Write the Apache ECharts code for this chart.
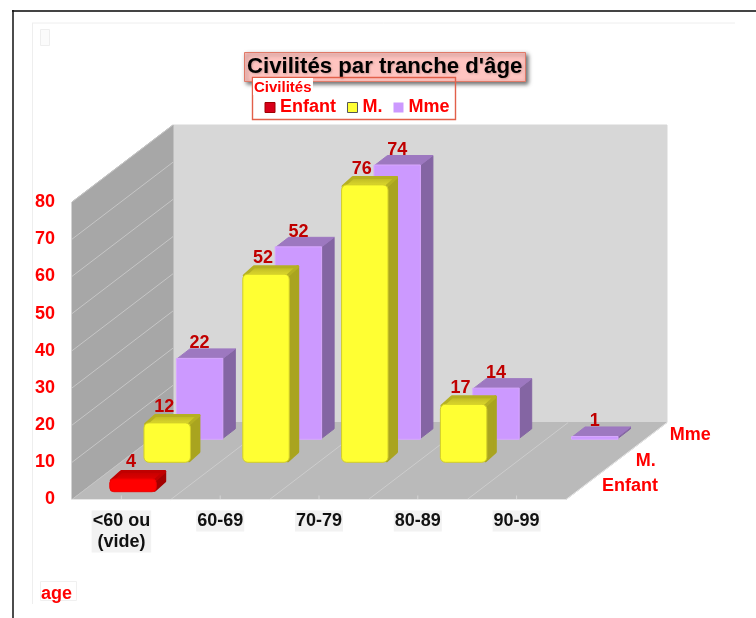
<!DOCTYPE html>
<html>
<head>
<meta charset="utf-8">
<title>Civilités par tranche d'âge</title>
<script src="https://cdn.jsdelivr.net/npm/echarts@6/dist/echarts.min.js"></script>
<style>
  html, body { margin: 0; padding: 0; background: #fff; }
  #chart { width: 756px; height: 618px; filter: blur(0.4px); }
</style>
</head>
<body>
<div id="chart"></div>
<script>
var categories = ['<60 ou\n(vide)', '60-69', '70-79', '80-89', '90-99'];
var civilites = ['Enfant', 'M.', 'Mme'];
var enfant = [4, null, null, null, null];
var monsieur = [12, 52, 76, 17, null];
var madame = [22, 52, 74, 14, 1];
var yTicks = [0, 10, 20, 30, 40, 50, 60, 70, 80];

var FONT = '"Liberation Sans", Arial, sans-serif';
// profondeur du plancher / mur gauche en pixels
var DEPTH = { dx: 101, dy: 77 };

// topDy : décalage du haut de colonne, dy : décalage du pied
var layers = [
  { values: enfant, z: 4, dx: 11.6, dy: 7.8, topDy: 5.6, sideDx: 10, sideDy: 9, r: 4,
    front: '#ff0000', side: '#a30000', topFrom: '#c00000', topTo: '#e60000', border: '#ee0000',
    nameDx: 36, nameDy: 13.8, labelDx: -2, labelDy: 17 },
  { values: monsieur, z: 3, dx: 45.8, dy: 37.2, topDy: 32, sideDx: 10, sideDy: 9, r: 5,
    front: '#ffff33', side: '#a9a41f', topFrom: '#b5b022', topTo: '#e6e22e', border: '#d2ce28',
    nameDx: 69.7, nameDy: 38.5, labelDx: -3, labelDy: 16 },
  { values: madame, z: 2, dx: 78.2, dy: 60.2, topDy: 59.3, sideDx: 13, sideDy: 10, r: 0,
    front: '#cc99ff', side: '#8465a3', topFrom: '#9d78c0', topTo: '#9d78c0', border: '#d8a8ff',
    nameDx: 103.7, nameDy: 64.5, labelDx: 0, labelDy: 15 }
];

function poly(points, fill, stroke, lineWidth) {
  return {
    type: 'polygon',
    shape: { points: points },
    style: { fill: fill, stroke: stroke || fill, lineWidth: lineWidth || 1, lineJoin: 'round' }
  };
}

function line(x1, y1, x2, y2, color) {
  return {
    type: 'line',
    shape: { x1: x1, y1: y1, x2: x2, y2: y2 },
    style: { stroke: color, lineWidth: 1 }
  };
}

function renderWalls(params, api) {
  var g = params.coordSys;
  var l = g.x, r = g.x + g.width, t = g.y, b = g.y + g.height;
  var dx = DEPTH.dx, dy = DEPTH.dy;
  var children = [
    poly([[l + dx, t - dy], [r + dx, t - dy], [r + dx, b - dy], [l + dx, b - dy]], '#d7d7d7'),
    poly([[l, t], [l + dx, t - dy], [l + dx, b - dy], [l, b]], '#a7a7a7'),
    poly([[l, b], [l + dx, b - dy], [r + dx, b - dy], [r, b]], '#bababa')
  ];
  yTicks.forEach(function (tick) {
    var y = api.coord([0, tick])[1];
    children.push(line(l, y, l + dx, y - dy, '#c6c6c6'));
  });
  var band = g.width / categories.length;
  categories.forEach(function (c, i) {
    if (i > 0) {
      children.push(line(l + band * i, b, l + band * i + dx, b - dy, '#cdcdcd'));
    }
    var cx = l + band * (i + 0.5);
    children.push(line(cx, b, cx, b - 4, '#d4d4d4'));
  });
  children.push(line(l, b, r, b, '#e6e6e6'));
  children.push(line(r, b, r + dx, b - dy, '#e6e6e6'));
  civilites.forEach(function (name, i) {
    children.push({
      type: 'text',
      x: r + layers[i].nameDx,
      y: b - layers[i].nameDy,
      style: {
        text: name, fill: '#ff0000', font: 'bold 18px ' + FONT,
        textAlign: 'left', textVerticalAlign: 'middle'
      }
    });
  });
  return { type: 'group', children: children };
}

function barRenderer(layer) {
  return function (params, api) {
    var v = api.value(1);
    if (isNaN(v)) return;
    var cat = api.value(0);
    var base = api.coord([cat, 0]);
    var head = api.coord([cat, v]);
    var w = api.size([1, 0])[0] * 0.47;
    var x0 = base[0] + layer.dx - w / 2;
    var x1 = x0 + w;
    var yb = base[1] - layer.dy;
    var yt = head[1] - layer.topDy;
    var sx = layer.sideDx, sy = layer.sideDy;
    var inset = layer.r ? 1.5 : 0.5;
    var lw = layer.r ? 3 : 1;
    var topFill = new echarts.graphic.LinearGradient(0, 0, 0, 1, [
      { offset: 0, color: layer.topFrom },
      { offset: 1, color: layer.topTo }
    ]);
    return {
      type: 'group',
      children: [
        poly([[x1 - inset, yb - inset], [x1 + sx - inset, yb - sy - inset], [x1 + sx - inset, yt - sy + inset], [x1 - inset, yt + inset]], layer.side, layer.side, lw),
        poly([[x0 + inset, yt + inset], [x1 - inset, yt + inset], [x1 + sx - inset, yt - sy + inset], [x0 + sx + inset, yt - sy + inset]], topFill, layer.topFrom, lw),
        {
          type: 'rect',
          shape: { x: x0, y: yt, width: w, height: yb - yt, r: layer.r },
          style: { fill: layer.front, stroke: layer.border, lineWidth: 1 }
        },
        {
          type: 'text',
          x: (x0 + x1) / 2 + layer.labelDx,
          y: yt - layer.labelDy,
          style: {
            text: String(v), fill: '#c00000', font: 'bold 18px ' + FONT,
            textAlign: 'center', textVerticalAlign: 'middle'
          }
        }
      ]
    };
  };
}

var series = [{
  type: 'custom',
  silent: true,
  z: 1,
  renderItem: renderWalls,
  data: [[0, 0]]
}];
layers.forEach(function (layer, i) {
  series.push({
    name: civilites[i],
    type: 'custom',
    z: layer.z,
    itemStyle: { color: layer.front },
    renderItem: barRenderer(layer),
    encode: { x: 0, y: 1 },
    data: layer.values.map(function (v, k) { return [k, v]; })
  });
});

var myChart = echarts.init(document.getElementById('chart'), null, { renderer: 'canvas' });
myChart.setOption({
  animation: false,
  backgroundColor: '#fff',
  textStyle: { fontFamily: FONT },
  title: {
    text: "Civilités par tranche d'âge",
    left: 244,
    top: 52,
    padding: [3, 3],
    backgroundColor: '#ffc4c0',
    borderColor: '#e07a68',
    borderWidth: 1,
    shadowColor: 'rgba(0,0,0,0.55)',
    shadowBlur: 4,
    shadowOffsetX: 2,
    shadowOffsetY: 2,
    z: 5,
    textStyle: {
      color: '#000',
      fontFamily: FONT,
      fontWeight: 'bold',
      fontSize: 22.2,
      lineHeight: 24,
      textShadowColor: 'rgba(0,0,0,0.2)',
      textShadowBlur: 2,
      textShadowOffsetX: 1,
      textShadowOffsetY: 1
    }
  },
  legend: {
    left: 252.5,
    top: 77.5,
    z: 6,
    padding: [21, 6, 3, 12],
    borderColor: '#e2604a',
    borderWidth: 1.4,
    itemWidth: 10,
    itemHeight: 10,
    itemGap: 11,
    selectedMode: false,
    data: [
      { name: 'Enfant', icon: 'rect', itemStyle: { color: '#d8001a', borderColor: '#a00000', borderWidth: 1 } },
      { name: 'M.', icon: 'rect', itemStyle: { color: '#ffff33', borderColor: '#555', borderWidth: 1 } },
      { name: 'Mme', icon: 'rect', itemStyle: { color: '#cc99ff', borderWidth: 0 } }
    ],
    textStyle: { color: '#ff0000', fontFamily: FONT, fontWeight: 'bold', fontSize: 18 }
  },
  grid: { left: 72, top: 202, width: 494, height: 297.5 },
  xAxis: {
    type: 'category',
    data: categories,
    axisLine: { show: false },
    axisTick: { show: false },
    splitLine: { show: false },
    axisLabel: {
      interval: 0,
      margin: 11,
      color: '#111',
      fontFamily: FONT,
      fontWeight: 'bold',
      fontSize: 18,
      lineHeight: 21,
      padding: [0, 1],
      backgroundColor: '#f2f2f2'
    }
  },
  yAxis: {
    type: 'value',
    min: 0,
    max: 80,
    interval: 10,
    axisLine: { show: false },
    axisTick: { show: false },
    splitLine: { show: false },
    axisLabel: { margin: 17, color: '#ff0000', fontFamily: FONT, fontWeight: 'bold', fontSize: 18 }
  },
  graphic: [
    { type: 'line', silent: true, shape: { x1: 12, y1: 11, x2: 756, y2: 11 }, style: { stroke: '#444', lineWidth: 2 } },
    { type: 'line', silent: true, shape: { x1: 13, y1: 10, x2: 13, y2: 618 }, style: { stroke: '#111', lineWidth: 1.5 } },
    { type: 'line', silent: true, shape: { x1: 32, y1: 23, x2: 735, y2: 23 }, style: { stroke: '#eeeeee', lineWidth: 1 } },
    { type: 'line', silent: true, shape: { x1: 32.5, y1: 23, x2: 32.5, y2: 604 }, style: { stroke: '#eeeeee', lineWidth: 1 } },
    { type: 'rect', silent: true, shape: { x: 40.5, y: 29.5, width: 9, height: 16 }, style: { fill: '#fbfbfb', stroke: '#eeeeee' } },
    { type: 'rect', silent: true, shape: { x: 40.5, y: 581.5, width: 36, height: 19 }, style: { fill: '#fff', stroke: '#f0f0f0' } },
    {
      type: 'text', silent: true, left: 41, top: 585, z: 10,
      style: { text: 'age', fill: '#ff0000', font: 'bold 18px ' + FONT }
    },
    {
      type: 'rect', silent: true, z: 10,
      shape: { x: 253, y: 78, width: 60, height: 17 }, style: { fill: '#fff' }
    },
    {
      type: 'text', silent: true, left: 254, top: 80, z: 11,
      style: { text: 'Civilités', fill: '#ff0000', font: 'bold 15px ' + FONT }
    }
  ],
  series: series
});
</script>
</body>
</html>
